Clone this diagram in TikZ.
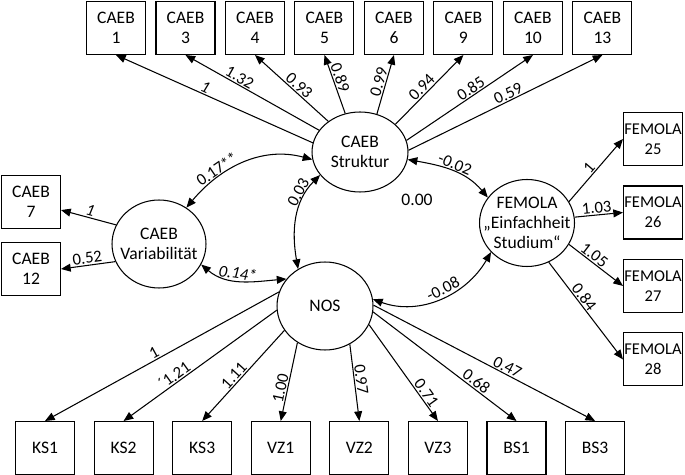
\documentclass[tikz,border=0pt]{standalone}
\usepackage{fontspec}
\setmainfont{Carlito}
\usetikzlibrary{positioning,arrows.meta,shapes.geometric}

\tikzset{
  ind/.style={draw, rectangle, minimum width=1.18cm, minimum height=1.06cm, inner sep=0pt, align=center, font=\fontsize{10}{11.5}\selectfont},
  femind/.style={ind, font=\fontsize{9.4}{11.5}\selectfont},
  lat/.style={draw, ellipse, minimum width=1.92cm, minimum height=1.72cm, inner sep=0pt},
  lattext/.style={align=center, inner sep=0pt, font=\fontsize{10}{11.5}\selectfont},
  lbl/.style={sloped, above, inner sep=0.6pt, font=\fontsize{9.5}{11}\selectfont},
}

\begin{document}
\begin{tikzpicture}[x=0.02cm, y=0.02cm, node distance=1.39cm, on grid, line width=0.6pt, >={Triangle[length=5.5pt,width=4.5pt]}]
  \useasboundingbox (0,0) rectangle (685,-475);

  % latent variables
  \node[lat, minimum height=1.6cm, label={[lattext]center:CAEB\\Struktur}] (struktur) at (360,-152) {};
  \node[lat, minimum width=1.88cm, minimum height=1.76cm, label={[lattext]center:CAEB\\Variabilität}] (var) at (159,-244) {};
  \node[lat, minimum height=1.76cm, label={[lattext]center:NOS}] (nos) at (325,-306) {};
  \node[lat, minimum width=1.9cm, minimum height=1.74cm, label={[lattext]center:FEMOLA\\„Einfachheit\\Studium“}] (femola) at (527,-223) {};
  \node[lattext] (cov) at (417,-200) {0.00};

  % top row
  \node[ind] (c1) at (116,-28) {CAEB\\1};
  \node[ind, right=of c1] (c3) {CAEB\\3};
  \node[ind, right=of c3] (c4) {CAEB\\4};
  \node[ind, right=of c4] (c5) {CAEB\\5};
  \node[ind, right=of c5] (c6) {CAEB\\6};
  \node[ind, right=of c6] (c9) {CAEB\\9};
  \node[ind, right=of c9] (c10) {CAEB\\10};
  \node[ind, right=of c10] (c13) {CAEB\\13};

  % left
  \node[ind] (c7) at (31,-202) {CAEB\\7};
  \node[ind, below=1.34cm of c7] (c12) {CAEB\\12};

  % right
  \node[femind] (f25) at (653,-139) {FEMOLA\\25};
  \node[femind, below=1.47cm of f25] (f26) {FEMOLA\\26};
  \node[femind, below=1.47cm of f26] (f27) {FEMOLA\\27};
  \node[femind, below=1.47cm of f27] (f28) {FEMOLA\\28};

  % bottom row
  \node[ind] (ks1) at (45,-448) {KS1};
  \node[ind, right=1.572cm of ks1] (ks2) {KS2};
  \node[ind, right=1.572cm of ks2] (ks3) {KS3};
  \node[ind, right=1.572cm of ks3] (vz1) {VZ1};
  \node[ind, right=1.572cm of vz1] (vz2) {VZ2};
  \node[ind, right=1.572cm of vz2] (vz3) {VZ3};
  \node[ind, right=1.572cm of vz3] (bs1) {BS1};
  \node[ind, right=1.572cm of bs1] (bs3) {BS3};

  \path[->]
  (struktur.169) edge node[lbl, pos=0.56] {\textit{1}} (c1.south)
  (struktur.152) edge node[lbl, pos=0.62] {1.32} (c3.south)
  (struktur.136) edge node[lbl, pos=0.46] {0.93} (c4.south)
  (struktur.111) edge node[lbl, pos=0.57] {0.89} (c5.south)
  (struktur.66) edge node[lbl, pos=0.51] {0.99} (c6.south)
  (struktur.38) edge node[lbl, pos=0.46] {0.94} (c9.south)
  (struktur.14) edge node[lbl, pos=0.54] {0.85} (c10.south)
  (struktur.2) edge node[lbl, pos=0.53] {0.59} (c13.south)
  (var.156) edge node[lbl, pos=0.5] {\textit{1}} (c7)
  (var.202) edge node[lbl, pos=0.5] {0.52} (c12.east)
  (femola.27) edge node[lbl, pos=0.47] {1} (f25.west)
  (femola.7) edge node[lbl, pos=0.47] {1.03} (f26.west)
  (femola.-27) edge node[lbl, pos=0.39] {1.05} (f27.west)
  (femola.-61) edge node[lbl, pos=0.4] {0.84} (f28.west)
  (nos.163) edge node[lbl, pos=0.52] {1} (ks1.north)
  (nos.185) edge node[lbl, pos=0.64] {´1.21} (ks2.north)
  (nos.211) edge node[lbl, pos=0.55] {1.11} (ks3.north)
  (nos.233) edge node[lbl, pos=0.6] {1.00} (vz1.north)
  (nos.-57) edge node[lbl, pos=0.47] {0.97} (vz2.north)
  (nos.-23) edge node[lbl, pos=0.75] {0.71} (vz3.north)
  (nos.-7) edge node[lbl, pos=0.69] {0.68} (bs1.north)
  (nos.1) edge node[lbl, pos=0.59] {0.47} (bs3.north);

  % covariances
  \path[<->]
  (var.53) edge[out=50, in=165] node[lbl, pos=0.32] {0.17**} (struktur.189)
  (struktur.210) edge[out=225, in=100] node[lbl, pos=0.25] {0.03} (nos.126)
  (var.-26) edge[out=-40, in=185] node[lbl, pos=0.45] {\textit{0.14*}} (nos.145)
  (struktur.-9) edge[out=-10, in=130] node[lbl, pos=0.5] {-0.02} (femola.147)
  (nos.8) edge[out=-20, in=240] node[lbl, pos=0.55] {-0.08} (femola.219);
\end{tikzpicture}
\end{document}
